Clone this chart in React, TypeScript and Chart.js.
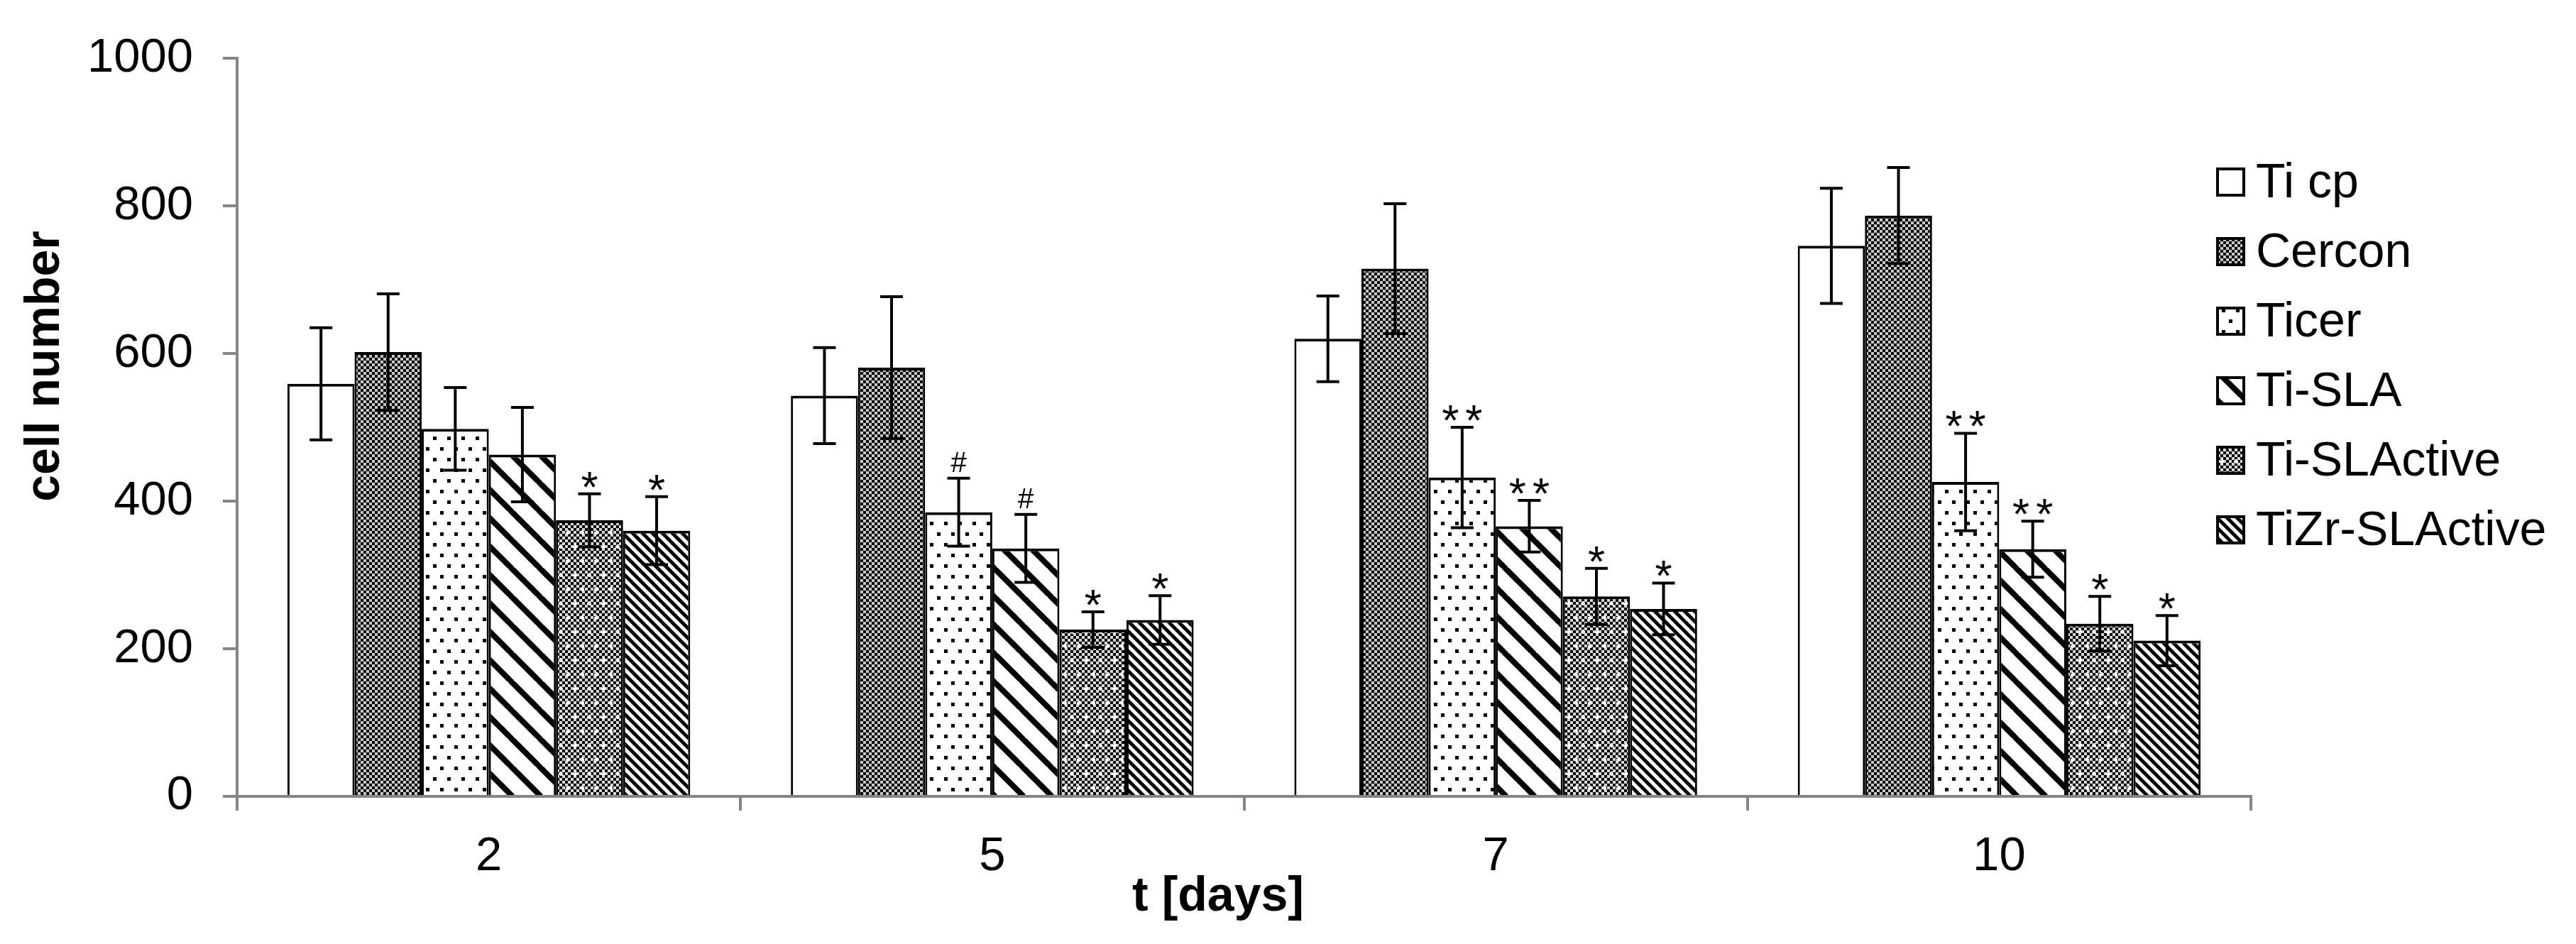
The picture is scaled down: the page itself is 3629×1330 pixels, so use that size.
import React, { useEffect, useRef } from "react"
import { Chart, registerables } from "chart.js"

Chart.register(...registerables)

const days = ["2", "5", "7", "10"]
const seriesNames = ["Ti cp", "Cercon", "Ticer", "Ti-SLA", "Ti-SLActive", "TiZr-SLActive"]

// mean cell numbers per day
const tiCp = [559, 543, 620, 746]
const cercon = [602, 581, 715, 787]
const ticer = [498, 385, 432, 426]
const tiSla = [463, 336, 366, 335]
const tiSlActive = [374, 226, 271, 234]
const tiZrSlActive = [360, 239, 254, 211]

// +/- error bar half lengths
const errTiCp = [76, 65, 58, 78]
const errCercon = [79, 96, 88, 65]
const errTicer = [56, 46, 68, 66]
const errTiSla = [64, 46, 35, 38]
const errTiSlActive = [36, 24, 38, 37]
const errTiZrSlActive = [46, 33, 35, 34]

// significance marks above the error bars
const markTiCp = ["", "", "", ""]
const markCercon = ["", "", "", ""]
const markTicer = ["", "#", "**", "**"]
const markTiSla = ["", "#", "**", "**"]
const markTiSlActive = ["*", "*", "*", "*"]
const markTiZrSlActive = ["*", "*", "*", "*"]

const yMin = 0
const yMax = 1000
const yStep = 200

const values = [tiCp, cercon, ticer, tiSla, tiSlActive, tiZrSlActive]
const errors = [errTiCp, errCercon, errTicer, errTiSla, errTiSlActive, errTiZrSlActive]
const marks = [markTiCp, markCercon, markTicer, markTiSla, markTiSlActive, markTiZrSlActive]
const fills = ["white", "checker", "dots", "wide", "checkerCross", "narrow"]

const FONT = '"Liberation Sans", Arial, sans-serif'
const AXIS_GREY = "#868686"

function makeFill(kind: string): CanvasPattern | string {
  if (kind === "white") return "#ffffff"
  const tile = document.createElement("canvas")
  const c = tile.getContext("2d")!
  if (kind === "checker" || kind === "checkerCross") {
    tile.width = 40
    tile.height = 40
    c.fillStyle = kind === "checker" ? "#c8c8c8" : "#d8d8d8"
    c.fillRect(0, 0, 40, 40)
    c.fillStyle = "#000000"
    for (let i = 0; i < 10; i++) {
      for (let j = 0; j < 10; j++) {
        if ((i + j) % 2 === 0) c.fillRect(i * 4, j * 4, 4, 4)
      }
    }
    if (kind === "checkerCross") {
      c.fillStyle = "#ffffff"
      const pts = [[10, 10], [30, 10], [20, 30], [0, 30], [40, 30]]
      pts.forEach(([px, py]) => {
        c.fillRect(px - 3, py - 1, 6, 3)
        c.fillRect(px - 1, py - 3, 3, 6)
      })
    }
  } else if (kind === "dots") {
    tile.width = 20
    tile.height = 30
    c.fillStyle = "#ffffff"
    c.fillRect(0, 0, 20, 30)
    c.fillStyle = "#000000"
    c.fillRect(0, 0, 5, 5)
    c.fillRect(10, 15, 5, 5)
  } else {
    const size = kind === "wide" ? 40 : 14
    const lw = kind === "wide" ? 8 : 5
    tile.width = size
    tile.height = size
    c.fillStyle = "#ffffff"
    c.fillRect(0, 0, size, size)
    c.strokeStyle = "#000000"
    c.lineWidth = lw
    for (const off of [-size, 0, size]) {
      c.beginPath()
      c.moveTo(off - 2, -2)
      c.lineTo(off + size + 2, size + 2)
      c.stroke()
    }
  }
  return c.createPattern(tile, "repeat")!
}

const extrasPlugin = {
  id: "extras",
  afterDatasetsDraw(chart: any) {
    const ctx = chart.ctx
    const y = chart.scales.y
    ctx.save()
    chart.data.datasets.forEach((ds: any, i: number) => {
      const meta = chart.getDatasetMeta(i)
      meta.data.forEach((bar: any, j: number) => {
        const v = values[i][j]
        const e = errors[i][j]
        const top = y.getPixelForValue(v + e)
        const bottom = y.getPixelForValue(v - e)
        ctx.strokeStyle = "#000000"
        ctx.lineWidth = 4
        ctx.beginPath()
        ctx.moveTo(bar.x, top)
        ctx.lineTo(bar.x, bottom)
        ctx.moveTo(bar.x - 16, top)
        ctx.lineTo(bar.x + 16, top)
        ctx.moveTo(bar.x - 16, bottom)
        ctx.lineTo(bar.x + 16, bottom)
        ctx.stroke()

        const m = marks[i][j]
        if (m) {
          const isHash = m === "#"
          ctx.font = (isHash ? "40px " : "62px ") + FONT
          const spacing = m.length > 1 ? 9 : 0
          ;(ctx as any).letterSpacing = spacing + "px"
          ctx.textAlign = "center"
          ctx.textBaseline = "alphabetic"
          ctx.fillStyle = "#000000"
          const tm = ctx.measureText(m)
          const base = top - 9 - tm.actualBoundingBoxDescent
          ctx.fillText(m, bar.x + spacing / 2, base)
          ;(ctx as any).letterSpacing = "0px"
        }
      })
    })
    ctx.restore()
  },
  afterDraw(chart: any) {
    const ctx = chart.ctx
    ctx.save()
    ctx.fillStyle = "#000000"
    // axis titles
    ctx.font = "bold 68px " + FONT
    ctx.textAlign = "center"
    ctx.textBaseline = "alphabetic"
    ctx.fillText("t [days]", 1716, 1283)
    ctx.save()
    ctx.translate(83, 516)
    ctx.rotate(-Math.PI / 2)
    ctx.fillText("cell number", 0, 0)
    ctx.restore()

    // legend
    ctx.font = "68px " + FONT
    ctx.textAlign = "left"
    chart.data.datasets.forEach((ds: any, i: number) => {
      const cy = 256 + i * 98
      const bx = 3122
      const by = cy - 20
      ctx.fillStyle = ds.backgroundColor
      ctx.fillRect(bx, by, 41, 41)
      ctx.strokeStyle = "#000000"
      ctx.lineWidth = 4
      ctx.strokeRect(bx + 2, by + 2, 37, 37)
      ctx.fillStyle = "#000000"
      ctx.fillText(ds.label, 3178, cy + 22)
    })
    ctx.restore()
  },
}

export default function App() {
  const ref = useRef<HTMLCanvasElement>(null)

  useEffect(() => {
    let chart: Chart | null = null
    if (ref.current) {
      chart = new Chart(ref.current, {
        type: "bar",
        data: {
          labels: days,
          datasets: seriesNames.map((name, i) => ({
            label: name,
            data: values[i],
            backgroundColor: makeFill(fills[i]) as any,
            borderColor: "#000000",
            borderWidth: { top: 4, left: 3, right: 3, bottom: 0 },
            borderSkipped: "start",
            categoryPercentage: 0.8,
            barPercentage: 1.0,
          })),
        },
        options: {
          responsive: false,
          animation: false,
          devicePixelRatio: 1,
          layout: { padding: { left: 0, top: 66, right: 458, bottom: 0 } },
          plugins: {
            legend: { display: false },
            tooltip: { enabled: false },
          },
          scales: {
            x: {
              z: 1,
              afterFit: (scale: any) => {
                scale.height = 208
              },
              grid: {
                offset: true,
                drawOnChartArea: false,
                drawTicks: true,
                tickLength: 20,
                color: AXIS_GREY,
                lineWidth: 4,
              },
              border: { display: true, color: AXIS_GREY, width: 4 },
              ticks: {
                color: "#000000",
                font: { family: FONT, size: 67 },
                padding: 25,
                maxRotation: 0,
              },
            },
            y: {
              min: yMin,
              max: yMax,
              afterFit: (scale: any) => {
                scale.width = 334
              },
              grid: {
                drawOnChartArea: false,
                drawTicks: true,
                tickLength: 20,
                color: AXIS_GREY,
                lineWidth: 4,
              },
              border: { display: true, color: AXIS_GREY, width: 4 },
              ticks: {
                stepSize: yStep,
                color: "#000000",
                font: { family: FONT, size: 67 },
                padding: 42,
                callback: (v: any) => String(v),
              },
            },
          },
        },
        plugins: [extrasPlugin],
      })
    }
    return () => {
      chart?.destroy()
    }
  }, [])

  return (
    <div style={{ position: "absolute", left: 0, top: 0, width: 3629, height: 1330, background: "#ffffff" }}>
      <canvas ref={ref} width={3629} height={1330} />
    </div>
  )
}
